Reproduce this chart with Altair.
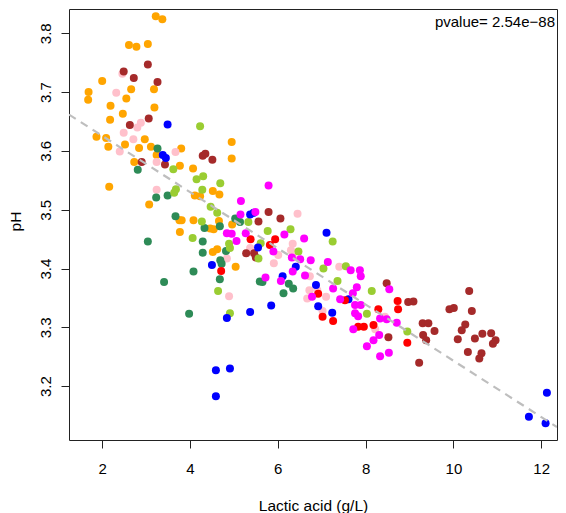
import altair as alt
import pandas as pd

# ---- data (Lactic acid g/L, pH) ----
orange_x = [3.22, 3.37, 2.61, 2.78, 3.04, 2.00, 3.18, 2.66, 1.69, 1.68, 2.55, 2.19, 3.19, 2.47, 2.18,
            1.87, 2.09, 2.97, 2.14, 2.52, 2.84, 3.11, 3.80, 4.95, 4.95, 3.24, 2.73, 3.77, 4.07, 2.16,
            4.52, 4.67, 4.11, 4.23, 3.07, 3.76, 3.81, 4.08, 4.46, 4.54, 4.66, 4.96, 3.77, 4.52, 4.62, 5.04]
orange_y = [3.829, 3.824, 3.780, 3.777, 3.782, 3.719, 3.705, 3.705, 3.700, 3.687, 3.689, 3.677, 3.674, 3.663, 3.653,
            3.624, 3.622, 3.620, 3.607, 3.611, 3.605, 3.607, 3.604, 3.615, 3.587, 3.593, 3.581, 3.575, 3.570, 3.539,
            3.532, 3.526, 3.524, 3.523, 3.509, 3.482, 3.482, 3.482, 3.468, 3.467, 3.481, 3.475, 3.462, 3.428, 3.433, 3.403]

pink_x = [2.46, 2.32, 2.88, 2.80, 2.49, 2.71, 2.40, 3.67, 3.24, 3.24, 4.84, 4.89, 6.45, 6.34, 6.30,
          5.37, 5.41, 6.01, 5.91, 6.34, 7.40, 6.73, 6.72, 6.90, 7.10, 6.67, 7.02, 8.44, 8.22]
pink_y = [3.731, 3.699, 3.648, 3.640, 3.631, 3.620, 3.599, 3.598, 3.581, 3.534, 3.417, 3.353, 3.493, 3.442, 3.431,
          3.435, 3.431, 3.423, 3.409, 3.420, 3.403, 3.387, 3.363, 3.363, 3.352, 3.349, 3.328, 3.318, 3.297]

brown_x = [3.04, 2.49, 2.72, 3.26, 3.06, 2.63, 4.29, 4.35, 4.51, 2.90, 3.43, 5.79, 6.06, 5.56, 5.28,
           5.46, 5.50, 8.48, 8.97, 9.09, 8.52, 9.22, 9.30, 9.43, 9.57, 9.31, 9.38, 9.91, 10.01, 10.36,
           10.42, 10.27, 10.19, 10.10, 10.33, 10.49, 10.66, 10.86, 10.96, 10.90, 10.64, 10.59]
brown_y = [3.747, 3.735, 3.724, 3.717, 3.655, 3.644, 3.592, 3.595, 3.585, 3.581, 3.577, 3.496, 3.485, 3.480, 3.426,
           3.426, 3.419, 3.375, 3.343, 3.344, 3.283, 3.240, 3.307, 3.307, 3.294, 3.287, 3.278, 3.331, 3.333, 3.362,
           3.328, 3.305, 3.295, 3.280, 3.258, 3.281, 3.289, 3.290, 3.278, 3.272, 3.256, 3.247]

dkgreen_x = [3.26, 2.81, 3.23, 3.49, 3.67, 4.33, 4.68, 5.03, 3.04, 4.29, 4.29, 4.82, 4.69, 4.72, 4.08,
             3.41, 4.68, 3.98, 5.14, 5.59, 5.65, 6.25, 6.35, 6.13]
dkgreen_y = [3.604, 3.568, 3.521, 3.524, 3.489, 3.469, 3.472, 3.485, 3.446, 3.446, 3.427, 3.430, 3.414, 3.408, 3.395,
             3.377, 3.382, 3.323, 3.479, 3.378, 3.377, 3.374, 3.366, 3.358]

ygreen_x = [4.23, 3.62, 4.15, 4.30, 4.69, 3.68, 3.64, 4.28, 4.47, 4.62, 4.27, 4.06, 4.89, 4.91, 4.64,
            4.91, 5.33, 5.77, 6.29, 5.61, 6.47, 5.56, 7.04, 7.25, 7.55, 7.36, 8.14, 8.03, 8.95]
ygreen_y = [3.642, 3.569, 3.552, 3.557, 3.545, 3.535, 3.529, 3.534, 3.505, 3.495, 3.480, 3.452, 3.442, 3.435, 3.362,
            3.324, 3.479, 3.464, 3.467, 3.443, 3.429, 3.417, 3.400, 3.446, 3.404, 3.379, 3.362, 3.323, 3.293]

blue_x = [3.49, 3.38, 3.45, 4.50, 4.84, 5.37, 5.45, 5.55, 7.11, 6.41, 6.11, 6.87, 5.85, 5.37, 6.92,
          7.24, 7.61, 4.59, 4.91, 4.59, 12.13, 11.72, 12.10]
blue_y = [3.645, 3.593, 3.588, 3.406, 3.316, 3.492, 3.495, 3.436, 3.461, 3.403, 3.387, 3.372, 3.337, 3.326, 3.336,
          3.325, 3.348, 3.227, 3.230, 3.183, 3.189, 3.148, 3.137]

red_x = [4.71, 5.38, 5.94, 5.82, 6.92, 7.53, 8.73, 8.74, 8.29, 7.02, 7.26, 7.83, 7.96, 8.18, 8.95]
red_y = [3.396, 3.450, 3.450, 3.440, 3.357, 3.346, 3.345, 3.331, 3.331, 3.318, 3.311, 3.301, 3.301, 3.304, 3.274]

magenta_x = [5.79, 5.16, 5.15, 5.49, 4.84, 4.95, 5.06, 5.27, 6.15, 6.60, 5.90, 6.32, 6.51, 6.75, 7.14,
             6.34, 7.66, 7.87, 7.89, 6.62, 5.72, 6.07, 7.26, 7.80, 8.54, 6.78, 7.71, 7.42, 7.76, 7.89,
             7.76, 7.83, 8.33, 8.48, 8.71, 7.72, 8.31, 8.18, 8.03, 8.33, 8.53]
magenta_y = [3.541, 3.515, 3.492, 3.496, 3.460, 3.459, 3.447, 3.460, 3.458, 3.451, 3.429, 3.419, 3.416, 3.414, 3.411,
             3.395, 3.397, 3.397, 3.387, 3.388, 3.385, 3.379, 3.366, 3.368, 3.365, 3.352, 3.358, 3.348, 3.338, 3.338,
             3.324, 3.319, 3.315, 3.314, 3.308, 3.297, 3.287, 3.278, 3.268, 3.251, 3.257]

groups = ["orange", "pink", "brown", "seagreen", "yellowgreen", "blue", "red", "magenta"]
colors = ["#FFA500", "#FFC0CB", "#A52A2A", "#2E8B57", "#9ACD32", "#0000FF", "#FF0000", "#FF00FF"]
series = [(orange_x, orange_y), (pink_x, pink_y), (brown_x, brown_y), (dkgreen_x, dkgreen_y),
          (ygreen_x, ygreen_y), (blue_x, blue_y), (red_x, red_y), (magenta_x, magenta_y)]

# regression line (intercept, slope)
fit_intercept = 3.7213
fit_slope = -0.0478
pvalue_label = "pvalue= 2.54e\u221288"

x_domain = [1.244, 12.36]
y_domain = [3.1085, 3.8413]
x_ticks = [2, 4, 6, 8, 10, 12]
y_ticks = [3.2, 3.3, 3.4, 3.5, 3.6, 3.7, 3.8]

rows = []
order = 0
for g, (xs, ys) in zip(groups, series):
    for a, b in zip(xs, ys):
        rows.append({"lactic": a, "ph": b, "group": g, "ord": order})
        order += 1
df = pd.DataFrame(rows)

line_df = pd.DataFrame({"lactic": x_domain,
                        "ph": [fit_intercept + fit_slope * v for v in x_domain]})

FONT = "Liberation Sans"

xscale = alt.Scale(domain=x_domain, nice=False, zero=False)
yscale = alt.Scale(domain=y_domain, nice=False, zero=False)

xaxis = alt.Axis(values=x_ticks, title="Lactic acid (g/L)", grid=False, domain=False,
                 tickSize=8, tickColor="#222", tickWidth=1,
                 labelFontSize=15, labelColor="#000", labelBaseline="alphabetic", labelPadding=25,
                 labelFont=FONT, titleFont=FONT, titleFontSize=15.5, titleFontWeight="normal",
                 titleColor="#000", titleBaseline="alphabetic", titleY=70)
yaxis = alt.Axis(values=y_ticks, format=".1f", title="pH", grid=False, domain=False,
                 tickSize=8, tickColor="#222", tickWidth=1,
                 labelFontSize=15, labelColor="#000", labelAngle=270, labelAlign="center",
                 labelBaseline="alphabetic", labelPadding=11,
                 labelFont=FONT, titleFont=FONT, titleFontSize=15.5, titleFontWeight="normal",
                 titleColor="#000", titleAngle=270, titleBaseline="alphabetic",
                 titleX=-49, titleY=212)

points = alt.Chart(df).mark_circle(size=64, opacity=1).encode(
    x=alt.X("lactic:Q", scale=xscale, axis=xaxis),
    y=alt.Y("ph:Q", scale=yscale, axis=yaxis),
    color=alt.Color("group:N", scale=alt.Scale(domain=groups, range=colors), legend=None),
    order=alt.Order("ord:Q"),
)

line = alt.Chart(line_df).mark_line(color="#BEBEBE", strokeWidth=2.2, strokeDash=[8, 6], clip=True).encode(
    x=alt.X("lactic:Q", scale=xscale),
    y=alt.Y("ph:Q", scale=yscale),
)

label = alt.Chart(pd.DataFrame({"t": [pvalue_label]})).mark_text(
    align="right", baseline="alphabetic", fontSize=15, font=FONT, color="#000"
).encode(x=alt.value(486), y=alt.value(18), text="t:N")

chart = alt.layer(points, line, label).properties(
    width=488, height=431,
    padding={"left": 61, "top": 1, "right": 1, "bottom": 73},
    autosize=alt.AutoSizeParams(type="none"),
).configure_view(stroke="#222", strokeWidth=1)

chart.save("out.html", embed_options={"renderer": "svg", "actions": False})
